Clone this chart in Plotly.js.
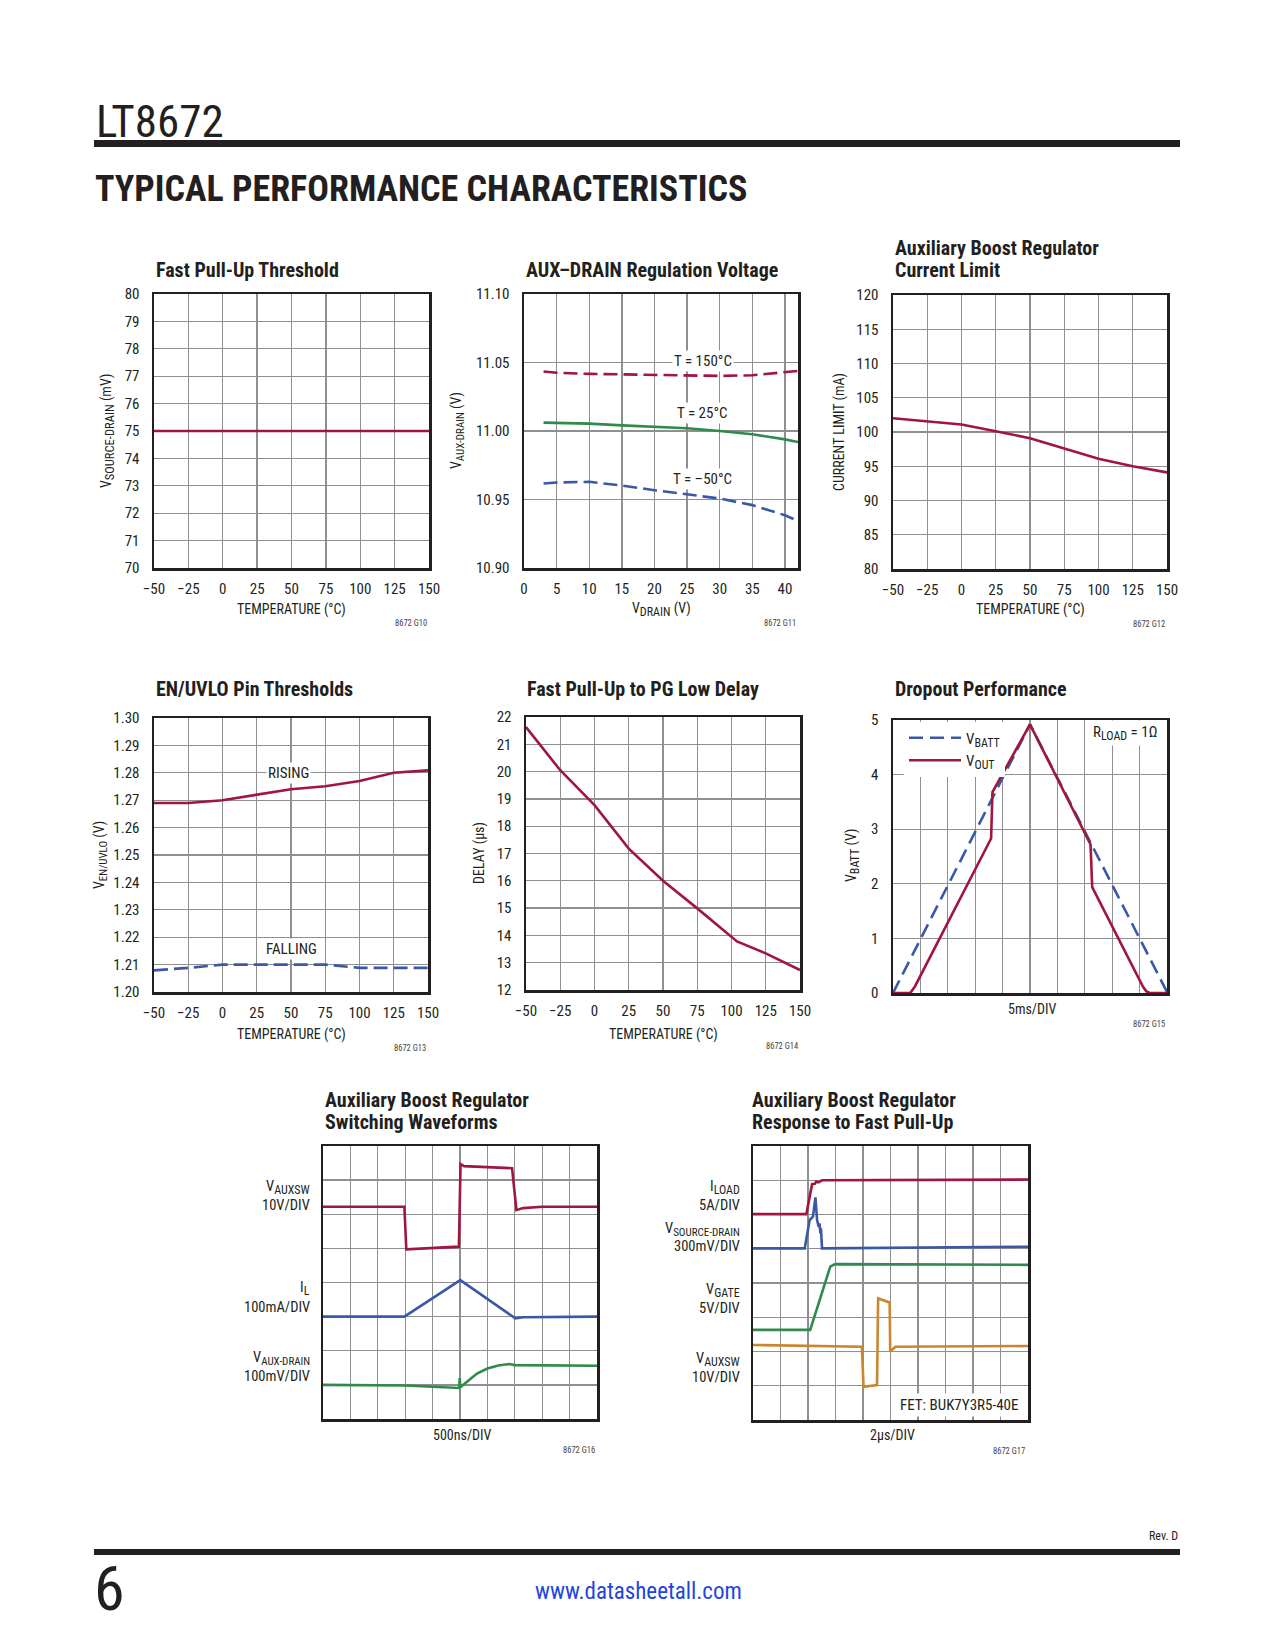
<!DOCTYPE html>
<html><head><meta charset="utf-8">
<script src="https://cdn.plot.ly/plotly-3.0.1.min.js"></script>
<style>html,body{margin:0;padding:0;background:#fff}#chart{width:1275px;height:1650px}</style>
</head><body><div id="chart"></div>
<script>
// ---------------- DATA ----------------
const temperatureC = [-50, -25, 0, 25, 50, 75, 100, 125, 150];
const fastPullUpThreshold_mV = [75, 75, 75, 75, 75, 75, 75, 75, 75];

const vDrain_V = [3, 5, 10, 15, 20, 25, 30, 35, 40, 42];
const auxDrain_T150 = [11.0434, 11.0425, 11.0417, 11.0412, 11.0407, 11.0404, 11.0402, 11.0407, 11.0427, 11.0439];
const auxDrain_T25 = [11.0061, 11.0059, 11.0054, 11.0041, 11.0032, 11.0020, 11.0000, 10.9976, 10.9939, 10.9920];
const auxDrain_Tm50 = [10.9617, 10.9624, 10.9629, 10.9602, 10.9568, 10.9537, 10.9507, 10.9459, 10.9385, 10.9344];

const currentLimit_mA = [102, 101.6, 101.1, 100.1, 99.1, 97.6, 96.1, 95.0, 94.1];

const enRising_V = [1.269, 1.269, 1.270, 1.2721, 1.274, 1.2751, 1.277, 1.280, 1.2809];
const enFalling_V = [1.2079, 1.2088, 1.2100, 1.2100, 1.2100, 1.2100, 1.2088, 1.2088, 1.2088];

const delayTempC = [-50, -25, 0, 25, 50, 75, 104, 125, 150];
const delay_us = [21.63, 20.05, 18.77, 17.18, 16.0, 14.99, 13.78, 13.34, 12.73];

// Dropout: time in divisions (5ms/DIV)
const battTime = [0, 5, 10];
const vBatt = [0, 4.92, 0.02];
const outTime = [0, 0.63, 0.8, 3.58, 3.63, 5, 7.21, 7.27, 9.13, 9.25, 9.37, 10];
const vOut = [0, 0, 0.12, 2.83, 3.68, 4.92, 2.72, 1.94, 0.11, 0.03, 0, 0];

// Switching waveforms: divisions (500ns/DIV)
const swTime = [0, 2.97, 3.04, 4.96, 5.02, 5.15, 6.9, 7.06, 7.3, 8, 10];
const swVauxsw = [6.22, 6.22, 4.97, 5.05, 7.47, 7.41, 7.35, 6.12, 6.18, 6.22, 6.22];
const ilTime = [0, 2.97, 5.01, 7.02, 7.3, 10];
const swIL = [3.0, 3.0, 4.07, 2.95, 2.98, 3.0];
const drainTime = [0, 2.95, 3.0, 4.97, 4.99, 5.01, 5.05, 5.3, 5.62, 6.0, 6.4, 6.8, 7.0, 10];
const swVauxDrain = [1.0, 1.0, 0.98, 0.91, 1.2, 0.93, 0.96, 1.12, 1.33, 1.48, 1.57, 1.61, 1.58, 1.56];

// Response to fast pull-up: divisions (2us/DIV)
const loadTime = [0, 1.94, 2.15, 2.25, 2.3, 2.38, 2.51, 10];
const frILoad = [6.01, 6.01, 6.89, 6.9, 6.96, 6.94, 7.0, 7.02];
const sdTime = [0, 1.88, 2.06, 2.18, 2.27, 2.33, 2.39, 2.42, 2.45, 2.47, 2.51, 10];
const frVsd = [5.01, 5.01, 5.84, 5.94, 6.5, 5.84, 5.64, 5.74, 5.45, 5.6, 5.01, 5.06];
const gateTime = [0, 2.08, 2.81, 2.95, 3.05, 10];
const frVgate = [2.63, 2.63, 4.48, 4.54, 4.55, 4.53];
const auxswTime = [0, 3.96, 4.02, 4.51, 4.55, 4.97, 4.99, 5.18, 10];
const frVauxsw = [2.19, 2.14, 0.97, 1.02, 3.55, 3.43, 2.0, 2.14, 2.16];

// ---------------- STYLE / LAYOUT ----------------
const W = 1275, H = 1650;
const F = "'Liberation Sans Narrow', 'Arial Narrow', 'Roboto Condensed', 'Liberation Sans', Arial, sans-serif";
const INK = '#231f20';
const RED = '#a0163c', BLUE = '#3a58a8', GREEN = '#2f8a4c', ORANGE = '#c98631';

function sub(main, s, size) {
  return main + '<sub><span style="font-size:' + (size || 12) + 'px">' + s + '</span></sub>';
}

const common = {
  showline: true, mirror: true, linecolor: INK, linewidth: 2.5,
  showgrid: true, gridcolor: '#8f8f8f', gridwidth: 1.3, zeroline: false,
  ticks: 'outside', tickcolor: 'rgba(0,0,0,0)',
  tickfont: {family: F, size: 15, color: INK}, fixedrange: true
};

const layout = {
  width: W, height: H, margin: {l: 0, r: 0, t: 0, b: 0},
  paper_bgcolor: '#fff', plot_bgcolor: '#fff',
  showlegend: true,
  legend: {x: 904 / W, y: 1 - 721.5 / H, xanchor: 'left', yanchor: 'top', bgcolor: '#fff',
           font: {family: F, size: 15, color: INK}, tracegroupgap: 0, itemwidth: 52},
  annotations: [], shapes: []
};

function addAxes(n, box, xr, xd, yr, yd, opt) {
  opt = opt || {};
  const sx = n === 1 ? '' : String(n);
  layout['xaxis' + sx] = Object.assign({}, common, {
    domain: [box[0] / W, box[1] / W], range: xr, dtick: xd, tick0: xr[0],
    anchor: 'y' + sx, ticklen: 5, showticklabels: !opt.noX
  });
  layout['yaxis' + sx] = Object.assign({}, common, {
    domain: [1 - box[3] / H, 1 - box[2] / H], range: yr, dtick: yd, tick0: yr[0],
    anchor: 'x' + sx, ticklen: 9, showticklabels: !opt.noY,
    tickformat: opt.yfmt || ''
  });
}

addAxes(1, [154, 429, 294, 568], [-50, 150], 25, [70, 80], 1);
addAxes(2, [524, 798, 294, 568], [0, 42], 5, [10.90, 11.10], 0.05, {yfmt: '.2f'});
addAxes(3, [893, 1167, 295, 569], [-50, 150], 25, [80, 120], 5);
addAxes(4, [154, 428, 718, 992], [-50, 150], 25, [1.20, 1.30], 0.01, {yfmt: '.2f'});
addAxes(5, [526, 800, 717, 990], [-50, 150], 25, [12, 22], 1);
addAxes(6, [893, 1167, 720, 993], [0, 10], 1, [0, 5], 1, {noX: true});
addAxes(7, [323, 597, 1146, 1419], [0, 10], 1, [0, 8], 1, {noX: true, noY: true});
addAxes(8, [753, 1028, 1146, 1420], [0, 10], 1, [0, 8], 1, {noX: true, noY: true});

function tr(n, x, y, color, dash, name, show) {
  const sx = n === 1 ? '' : String(n);
  return {x: x, y: y, xaxis: 'x' + sx, yaxis: 'y' + sx, mode: 'lines', name: name || '',
          showlegend: !!show, hoverinfo: 'skip',
          line: {color: color, width: 2.6, dash: dash || 'solid', shape: 'linear'}};
}

const data = [
  tr(1, temperatureC, fastPullUpThreshold_mV, RED),
  tr(2, vDrain_V, auxDrain_T150, RED, '14px,6px'),
  tr(2, vDrain_V, auxDrain_T25, GREEN),
  tr(2, vDrain_V, auxDrain_Tm50, BLUE, '14px,6px'),
  tr(3, temperatureC, currentLimit_mA, RED),
  tr(4, temperatureC, enRising_V, RED),
  tr(4, temperatureC, enFalling_V, BLUE, '14px,6px'),
  tr(5, delayTempC, delay_us, RED),
  tr(6, battTime, vBatt, BLUE, '14px,7px', sub('V', 'BATT', 12), true),
  tr(6, outTime, vOut, RED, 'solid', sub('V', 'OUT', 12), true),
  tr(7, swTime, swVauxsw, RED),
  tr(7, ilTime, swIL, BLUE),
  tr(7, drainTime, swVauxDrain, GREEN),
  tr(8, loadTime, frILoad, RED),
  tr(8, sdTime, frVsd, BLUE),
  tr(8, gateTime, frVgate, GREEN),
  tr(8, auxswTime, frVauxsw, ORANGE)
];

// ---------------- ANNOTATIONS ----------------
function t(x, y, text, o) {
  o = o || {};
  const a = {xref: 'paper', yref: 'paper', x: x / W, y: 1 - y / H, text: text, showarrow: false,
    xanchor: o.xa || 'left', yanchor: 'middle',
    font: {family: F, size: o.size || 14, color: o.color || INK, weight: o.weight || 'normal'}};
  if (o.angle !== undefined) a.textangle = o.angle;
  if (o.bg) { a.bgcolor = o.bg; a.borderpad = o.pad === undefined ? 1 : o.pad; }
  return a;
}
function d(n, x, y, text, o) {
  o = o || {};
  const sx = n === 1 ? '' : String(n);
  return {xref: 'x' + sx, yref: 'y' + sx, x: x, y: y, text: text, showarrow: false,
    xanchor: 'center', yanchor: 'middle', bgcolor: '#fff', borderpad: 1,
    font: {family: F, size: o.size || 15, color: INK}};
}
const A = layout.annotations;
const TB = {size: 20, weight: 'bold'};

// header
A.push(t(94, 121, 'LT8672', {size: 45}));
A.push(t(93, 189, 'TYPICAL PERFORMANCE CHARACTERISTICS', {size: 36, weight: 'bold'}));

// chart titles
A.push(t(154, 270, 'Fast Pull-Up Threshold', TB));
A.push(t(524, 270, 'AUX\u2013DRAIN Regulation Voltage', TB));
A.push(t(893, 248, 'Auxiliary Boost Regulator', TB));
A.push(t(893, 270, 'Current Limit', TB));
A.push(t(154, 689, 'EN/UVLO Pin Thresholds', TB));
A.push(t(525, 689, 'Fast Pull-Up to PG Low Delay', TB));
A.push(t(893, 689, 'Dropout Performance', TB));
A.push(t(323, 1100, 'Auxiliary Boost Regulator', TB));
A.push(t(323, 1122, 'Switching Waveforms', TB));
A.push(t(750, 1100, 'Auxiliary Boost Regulator', TB));
A.push(t(750, 1122, 'Response to Fast Pull-Up', TB));

// axis titles
A.push(t(291, 609, 'TEMPERATURE (°C)', {xa: 'center'}));
A.push(t(107, 431, sub('V', 'SOURCE-DRAIN', 12.5) + ' (mV)', {xa: 'center', angle: -90}));
A.push(t(661, 610, sub('V', 'DRAIN', 12) + ' (V)', {xa: 'center'}));
A.push(t(457, 431, sub('V', 'AUX-DRAIN', 11) + ' (V)', {xa: 'center', angle: -90}));
A.push(t(1030, 610, 'TEMPERATURE (°C)', {xa: 'center'}));
A.push(t(839, 432, 'CURRENT LIMIT (mA)', {xa: 'center', angle: -90}));
A.push(t(291, 1034, 'TEMPERATURE (°C)', {xa: 'center'}));
A.push(t(100, 855, sub('V', 'EN/UVLO', 11) + ' (V)', {xa: 'center', angle: -90}));
A.push(t(663, 1034, 'TEMPERATURE (°C)', {xa: 'center'}));
A.push(t(479, 853, 'DELAY (µs)', {xa: 'center', angle: -90}));
A.push(t(1032, 1009, '5ms/DIV', {xa: 'center'}));
A.push(t(852, 856, sub('V', 'BATT', 12) + ' (V)', {xa: 'center', angle: -90}));
A.push(t(462, 1435, '500ns/DIV', {xa: 'center'}));
A.push(t(892, 1435, '2µs/DIV', {xa: 'center'}));

// figure codes
const codeStyle = {xa: 'right', size: 8.5, color: '#444'};
A.push(t(429, 623, '8672 G10', codeStyle));
A.push(t(798, 623, '8672 G11', codeStyle));
A.push(t(1167, 624, '8672 G12', codeStyle));
A.push(t(428, 1048, '8672 G13', codeStyle));
A.push(t(800, 1046, '8672 G14', codeStyle));
A.push(t(1167, 1024, '8672 G15', codeStyle));
A.push(t(597, 1450, '8672 G16', codeStyle));
A.push(t(1027, 1451, '8672 G17', codeStyle));

// in-plot labels
A.push(d(2, 27.4, 11.051, 'T = 150°C'));
A.push(d(2, 27.4, 11.013, 'T = 25°C'));
A.push(d(2, 27.4, 10.965, 'T = \u201350°C'));
A.push(d(4, 48.5, 1.28, 'RISING'));
A.push(d(4, 50.7, 1.2157, 'FALLING'));
A.push(t(1160, 733, sub('R', 'LOAD', 12) + ' = 1\u03A9', {xa: 'right', size: 15, bg: '#fff', pad: 2}));
A.push(t(1021, 1405, 'FET: BUK7Y3R5-40E', {xa: 'right', size: 15, bg: '#fff', pad: 2}));

// waveform channel labels
const ch = {xa: 'right', size: 14.5};
A.push(t(312, 1187, sub('V', 'AUXSW', 12), ch));
A.push(t(312, 1205, '10V/DIV', ch));
A.push(t(312, 1288, sub('I', 'L', 12), ch));
A.push(t(312, 1307, '100mA/DIV', ch));
A.push(t(312, 1358, sub('V', 'AUX-DRAIN', 11), ch));
A.push(t(312, 1376, '100mV/DIV', ch));
A.push(t(742, 1187, sub('I', 'LOAD', 12), ch));
A.push(t(742, 1205, '5A/DIV', ch));
A.push(t(742, 1229, sub('V', 'SOURCE-DRAIN', 11), ch));
A.push(t(742, 1246, '300mV/DIV', ch));
A.push(t(742, 1290, sub('V', 'GATE', 12), ch));
A.push(t(742, 1308, '5V/DIV', ch));
A.push(t(742, 1359, sub('V', 'AUXSW', 12), ch));
A.push(t(742, 1377, '10V/DIV', ch));

// footer
A.push(t(1180, 1536, 'Rev. D', {xa: 'right', size: 12}));
A.push(t(92, 1588, '6', {size: 62}));
A.push(t(638, 1591, 'www.datasheetall.com', {xa: 'center', size: 23, color: '#1f45e0'}));

// rules
function rule(x0, x1, y0, y1) {
  return {type: 'rect', xref: 'paper', yref: 'paper', x0: x0 / W, x1: x1 / W,
          y0: 1 - y1 / H, y1: 1 - y0 / H, fillcolor: INK, line: {width: 0}, layer: 'above'};
}
layout.shapes.push(rule(94, 1180, 140, 147));
layout.shapes.push(rule(94, 1180, 1549, 1555));

Plotly.newPlot('chart', data, layout, {displayModeBar: false, staticPlot: true});
</script>
</body></html>
